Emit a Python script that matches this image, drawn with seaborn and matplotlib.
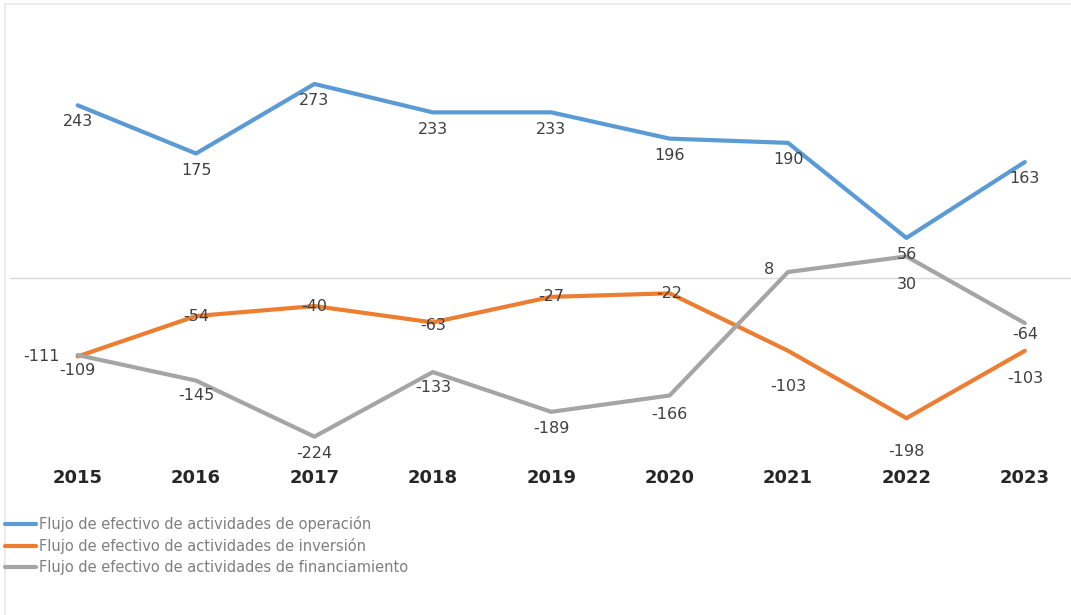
import matplotlib
matplotlib.use("Agg")
import matplotlib.pyplot as plt
from matplotlib.lines import Line2D
from matplotlib.patches import Rectangle
import pandas as pd
import seaborn as sns

years = ["2015", "2016", "2017", "2018", "2019", "2020", "2021", "2022", "2023"]
operacion = [243, 175, 273, 233, 233, 196, 190, 56, 163]
inversion = [-111, -54, -40, -63, -27, -22, -103, -198, -103]
financiamiento = [-109, -145, -224, -133, -189, -166, 8, 30, -64]

series_names = [
    "Flujo de efectivo de actividades de operación",
    "Flujo de efectivo de actividades de inversión",
    "Flujo de efectivo de actividades de financiamiento",
]
colors = ["#5B9BD5", "#ED7D31", "#A5A5A5"]

# label offsets (points) for each series' data labels
label_offsets = {
    series_names[0]: [(0, -12)] * 9,
    series_names[1]: [(-26, 0), (0, 0), (0, 0), (0, -2), (0, 0), (0, 0), (0, -26), (0, -24), (0, -20)],
    series_names[2]: [(0, -11), (0, -11), (0, -12), (0, -11), (0, -12), (0, -14), (-14, 2), (0, -20), (0, -8)],
}

rows = []
for name, vals in zip(series_names, [operacion, inversion, financiamiento]):
    for i, (y, v) in enumerate(zip(years, vals)):
        rows.append({"idx": i, "year": y, "valor": v, "serie": name})
df = pd.DataFrame(rows)

sns.set_theme(style="white")
plt.rcParams["font.family"] = ["DejaVu Sans"]

fig = plt.figure(figsize=(10.71, 6.15), dpi=100)
ax = fig.add_axes([0.009, 0.26, 0.991, 0.675])

ax.axhline(0, color="#D9D9D9", lw=1.0, zorder=0)

sns.lineplot(data=df, x="idx", y="valor", hue="serie", palette=colors,
             hue_order=series_names, linewidth=3.0, legend=False, ax=ax,
             zorder=2)

for name, vals in zip(series_names, [operacion, inversion, financiamiento]):
    for i, v in enumerate(vals):
        dx, dy = label_offsets[name][i]
        ax.annotate(str(v), xy=(i, v), xytext=(dx, dy), textcoords="offset points",
                    ha="center", va="center", fontsize=11.5, color="#404040",
                    zorder=3)

ax.set_xlim(-0.574, 8.39)
ax.set_ylim(-250, 335)
ax.set_xticks(range(len(years)))
ax.set_xticklabels(years, fontsize=13, fontweight="bold", color="#262626")
ax.tick_params(axis="x", length=0, pad=10)
ax.set_yticks([])
ax.set_xlabel("")
ax.set_ylabel("")
for s in ax.spines.values():
    s.set_visible(False)

handles = [Line2D([0], [0], color=c, lw=3) for c in colors]
fig.legend(handles, series_names, loc="upper left", bbox_to_anchor=(0.002, 0.166),
           frameon=False, fontsize=10.5, labelcolor="#7F7F7F", handlelength=2.1,
           handletextpad=0.25, labelspacing=0.42, borderaxespad=0.0,
           borderpad=0.2)

fig.patches.append(Rectangle((0.005, -0.01), 1.0, 1.003, transform=fig.transFigure,
                             fill=False, edgecolor="#E8E8E8", lw=1.2))

fig.savefig("out.png", dpi=100, facecolor="white")
